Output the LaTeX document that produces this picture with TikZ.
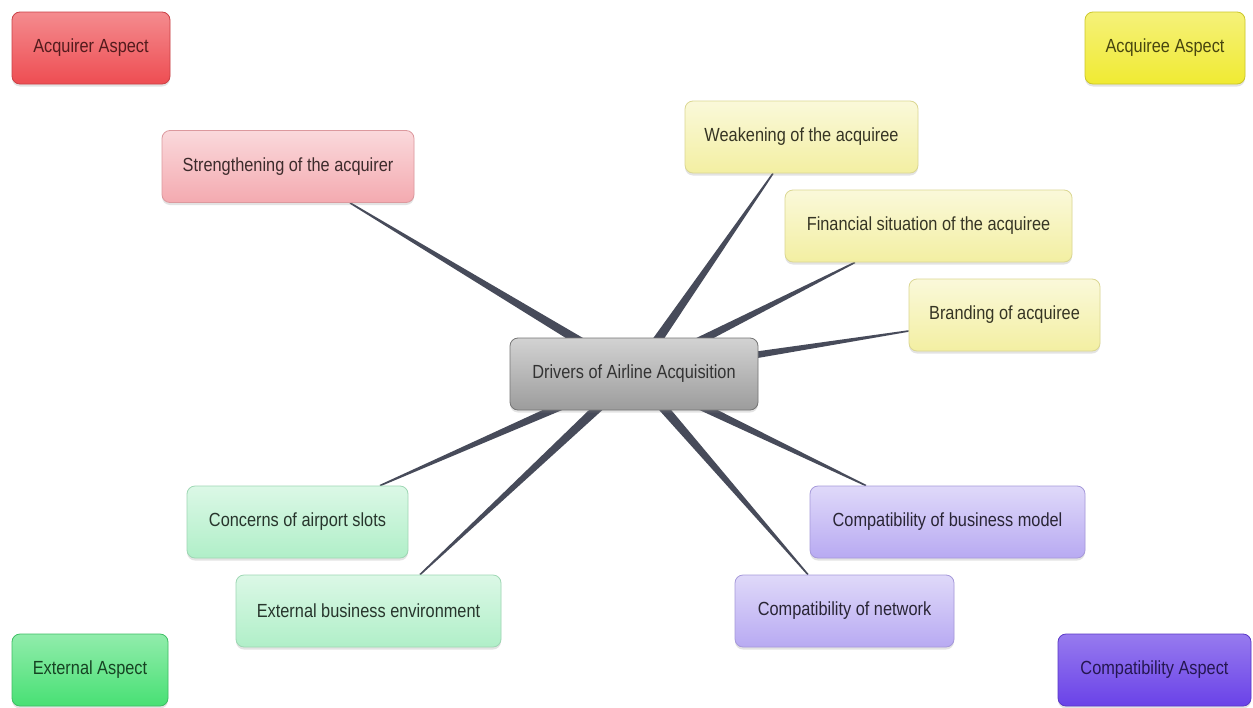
\documentclass[tikz,border=0pt]{standalone}
\usepackage{fontspec}
\setmainfont{Liberation Sans}[FakeStretch=0.86]
\usetikzlibrary{calc,shadows}
\pgfdeclarelayer{bg}
\pgfdeclarelayer{paper}
\pgfsetlayers{paper,bg,main}
\definecolor{connc}{HTML}{474B5A}
\newcommand\taperline[2]{%
  \fill[conn] ($(#1)!0.8pt!90:(#2)$) -- ($(#2)!5.4pt!-90:(#1)$) -- ($(#2)!5.4pt!90:(#1)$) -- ($(#1)!0.8pt!-90:(#2)$) -- cycle;}
\definecolor{sred}{HTML}{EE4D52}
\definecolor{syel}{HTML}{F0EA32}
\definecolor{sgrn}{HTML}{48E074}
\definecolor{spur}{HTML}{6A42E8}
\definecolor{lred}{HTML}{F4AAB0}
\definecolor{lyel}{HTML}{F3EFA2}
\definecolor{lgrn}{HTML}{B0EFC8}
\definecolor{lpur}{HTML}{B8AAF2}
\definecolor{lgry}{HTML}{9C9C9C}
\tikzset{
  box/.style={rounded corners=8pt, minimum height=72pt, inner sep=0pt, line width=0.8pt,
    font=\fontsize{19}{22}\selectfont,
    drop shadow={opacity=0.22, shadow xshift=0pt, shadow yshift=-2.5pt}},
  conn/.style={fill=connc},
  redA/.style={box, draw=sred!85!black, top color=sred!65!white, bottom color=sred, text=sred!35!black},
  yelA/.style={box, draw=syel!85!black, top color=syel!65!white, bottom color=syel, text=syel!30!black},
  grnA/.style={box, draw=sgrn!85!black, top color=sgrn!60!white, bottom color=sgrn, text=sgrn!30!black},
  purA/.style={box, draw=spur!85!black, top color=spur!70!white, bottom color=spur, text=spur!35!black},
  redL/.style={box, draw=lred!90!black, top color=lred!45!white, bottom color=lred, text=lred!25!black},
  yelL/.style={box, draw=lyel!90!black, top color=lyel!40!white, bottom color=lyel, text=lyel!22!black},
  grnL/.style={box, draw=lgrn!90!black, top color=lgrn!45!white, bottom color=lgrn, text=lgrn!22!black},
  purL/.style={box, draw=lpur!90!black, top color=lpur!45!white, bottom color=lpur, text=lpur!22!black},
  gryC/.style={box, draw=lgry!75!black, top color=lgry!45!white, bottom color=lgry, text=black!80}
}
\begin{document}
\begin{tikzpicture}[x=1pt,y=-1pt]
\begin{pgfonlayer}{paper}
\fill[white] (0,0) rectangle (1253,707);
\end{pgfonlayer}
\useasboundingbox (0,0) rectangle (1253,707);
% aspect legend boxes
\node[redA, minimum width=158pt] (aqA) at (91,48) {Acquirer Aspect};
\node[yelA, minimum width=160pt] (aqE) at (1165,48) {Acquiree Aspect};
\node[grnA, minimum width=156pt] (exA) at (90,670) {External Aspect};
\node[purA, minimum width=193pt] (coA) at (1154.5,670) {Compatibility Aspect};
% leaves
\node[redL, minimum width=252pt] (s1) at (288,166.5) {Strengthening of the acquirer};
\node[yelL, minimum width=233pt] (w1) at (801.5,137) {Weakening of the acquiree};
\node[yelL, minimum width=287pt] (f1) at (928.5,226) {Financial situation of the acquiree};
\node[yelL, minimum width=191pt] (b1) at (1004.5,315) {Branding of acquiree};
\node[grnL, minimum width=221pt] (cs) at (297.5,522) {Concerns of airport slots};
\node[grnL, minimum width=265pt] (eb) at (368.5,611) {External business environment};
\node[purL, minimum width=275pt] (cb) at (947.5,522) {Compatibility of business model};
\node[purL, minimum width=219pt] (cn) at (844.5,611) {Compatibility of network};
% centre
\node[gryC, minimum width=248pt] (c) at (634,374) {Drivers of Airline Acquisition};
% connector ends on the leaves
\coordinate (e1) at ([xshift=62pt]s1.south);
\coordinate (e2) at ([xshift=-28.5pt]w1.south);
\coordinate (e3) at ([xshift=-73.5pt]f1.south);
\coordinate (e4) at ([yshift=-16pt]b1.west);
\coordinate (e5) at ([xshift=82.5pt]cs.north);
\coordinate (e6) at ([xshift=51.5pt]eb.north);
\coordinate (e7) at ([xshift=-81.5pt]cb.north);
\coordinate (e8) at ([xshift=-36.5pt]cn.north);
\begin{pgfonlayer}{bg}
\taperline{e1}{c.center}
\taperline{e2}{c.center}
\taperline{e3}{c.center}
\taperline{e4}{c.center}
\taperline{e5}{c.center}
\taperline{e6}{c.center}
\taperline{e7}{c.center}
\taperline{e8}{c.center}
\end{pgfonlayer}
\end{tikzpicture}
\end{document}
